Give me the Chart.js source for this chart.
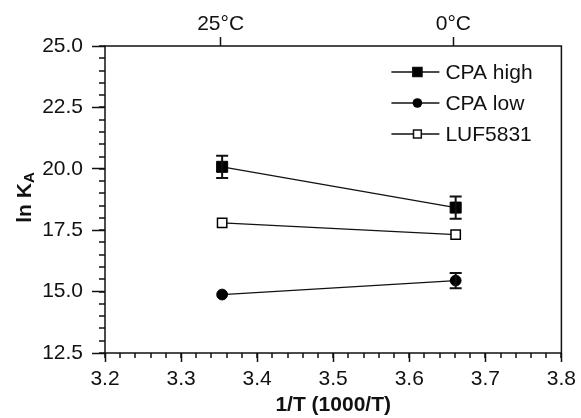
<!DOCTYPE html>
<html>
<head>
<meta charset="utf-8">
<script src="https://cdn.jsdelivr.net/npm/chart.js@4.4.0/dist/chart.umd.min.js"></script>
<style>
  html, body { margin: 0; padding: 0; background: #fff; }
  #wrap { width: 581px; height: 418px; }
</style>
</head>
<body>
<div id="wrap"><canvas id="chart" width="581" height="418"></canvas></div>
<script>
// values
const invTemp = [3.354, 3.661];          // 1000/T at 25°C and 0°C
const cpaHigh = [20.08, 18.42];
const cpaHighErr = [0.45, 0.45];
const cpaLow = [14.88, 15.45];
const cpaLowErr = [0, 0.31];
const luf5831 = [17.80, 17.32];
const luf5831Err = [0, 0];
const seriesNames = ['CPA high', 'CPA low', 'LUF5831'];

// axis ticks
const xTicks = [3.2, 3.3, 3.4, 3.5, 3.6, 3.7, 3.8];
const yTicks = [12.5, 15.0, 17.5, 20.0, 22.5, 25.0];
const tempTickPos = [3.352, 3.658];
const tempTickLabels = ['25°C', '0°C'];
const xMinorStep = 0.02;
const yMinorStep = 0.5;

const INK = '#111';
const FONT = "'Liberation Sans', Arial, sans-serif";

function points(ys) {
    return invTemp.map((x, i) => ({ x: x, y: ys[i] }));
}

// Error bars, minor ticks, frame, y title and legend
const extras = {
    id: 'extras',
    afterDatasetsDraw(chart) {
        const ctx = chart.ctx;
        const yScale = chart.scales.y;
        ctx.save();
        ctx.strokeStyle = INK;
        ctx.lineWidth = 2;
        chart.data.datasets.forEach((ds, di) => {
            const meta = chart.getDatasetMeta(di);
            meta.data.forEach((pt, i) => {
                const err = ds.errors[i];
                if (!err) return;
                const v = ds.data[i].y;
                const yt = yScale.getPixelForValue(v + err);
                const yb = yScale.getPixelForValue(v - err);
                ctx.beginPath();
                ctx.moveTo(pt.x, yt); ctx.lineTo(pt.x, yb);
                ctx.moveTo(pt.x - 6, yt); ctx.lineTo(pt.x + 6, yt);
                ctx.moveTo(pt.x - 6, yb); ctx.lineTo(pt.x + 6, yb);
                ctx.stroke();
            });
        });
        ctx.restore();
    },
    afterDraw(chart) {
        const ctx = chart.ctx;
        const a = chart.chartArea;
        const xs = chart.scales.x, ys = chart.scales.y;
        ctx.save();
        ctx.strokeStyle = INK;
        ctx.lineWidth = 1.5;

        // minor ticks
        ctx.beginPath();
        for (let v = xs.min; v <= xs.max + 1e-9; v += xMinorStep) {
            const px = Math.round(xs.getPixelForValue(v));
            ctx.moveTo(px, a.bottom); ctx.lineTo(px, a.bottom + 5);
        }
        for (let v = ys.min; v <= ys.max + 1e-9; v += yMinorStep) {
            const py = Math.round(ys.getPixelForValue(v));
            ctx.moveTo(a.left, py); ctx.lineTo(a.left - 6, py);
        }
        ctx.stroke();

        // frame
        ctx.strokeRect(a.left, a.top, a.right - a.left, a.bottom - a.top);

        // y axis title: ln K with subscript A
        ctx.fillStyle = INK;
        ctx.translate(25, (a.top + a.bottom) / 2 - 2);
        ctx.rotate(-Math.PI / 2);
        ctx.textBaseline = 'middle';
        ctx.font = 'bold 21px ' + FONT;
        const main = 'ln K';
        const mw = ctx.measureText(main).width;
        ctx.font = 'bold 15px ' + FONT;
        const sw = ctx.measureText('A').width;
        const start = -(mw + sw) / 2;
        ctx.font = 'bold 21px ' + FONT;
        ctx.textAlign = 'left';
        ctx.fillText(main, start, 0);
        ctx.font = 'bold 15px ' + FONT;
        ctx.fillText('A', start + mw, 5);
        ctx.setTransform(1, 0, 0, 1, 0, 0);

        // legend
        chart.data.datasets.forEach((ds, i) => {
            const ly = a.top + 26 + i * 31;
            const x0 = a.right - 170, x1 = a.right - 122, mx = a.right - 144;
            ctx.strokeStyle = INK;
            ctx.lineWidth = 1.5;
            ctx.beginPath();
            ctx.moveTo(x0, ly); ctx.lineTo(x1, ly);
            ctx.stroke();
            ctx.fillStyle = ds.pointBackgroundColor;
            ctx.beginPath();
            if (ds.pointStyle === 'circle') {
                ctx.arc(mx, ly, 4.8, 0, Math.PI * 2);
                ctx.fill();
            } else {
                const h = ds.legendHalf;
                ctx.rect(mx - h, ly - h, 2 * h, 2 * h);
                ctx.fill();
                ctx.stroke();
            }
            ctx.fillStyle = INK;
            ctx.font = '21px ' + FONT;
            ctx.textAlign = 'left';
            ctx.textBaseline = 'middle';
            ctx.fillText(seriesNames[i], a.right - 116, ly + 1);
        });
        ctx.restore();
    }
};

const tickFont = { family: FONT, size: 21 };

new Chart(document.getElementById('chart'), {
    type: 'line',
    data: {
        datasets: [
            {
                label: seriesNames[0],
                data: points(cpaHigh),
                errors: cpaHighErr,
                borderColor: INK,
                borderWidth: 1.3,
                pointStyle: 'rect',
                pointRadius: 7.8,
                pointBackgroundColor: '#000',
                pointBorderColor: '#000',
                pointBorderWidth: 1,
                legendHalf: 4.6
            },
            {
                label: seriesNames[1],
                data: points(cpaLow),
                errors: cpaLowErr,
                borderColor: INK,
                borderWidth: 1.3,
                pointStyle: 'circle',
                pointRadius: 5.4,
                pointBackgroundColor: '#000',
                pointBorderColor: '#000',
                pointBorderWidth: 1
            },
            {
                label: seriesNames[2],
                data: points(luf5831),
                errors: luf5831Err,
                borderColor: INK,
                borderWidth: 1.3,
                pointStyle: 'rect',
                pointRadius: 6.6,
                pointBackgroundColor: '#fff',
                pointBorderColor: '#000',
                pointBorderWidth: 1.5,
                legendHalf: 3.9
            }
        ]
    },
    options: {
        responsive: false,
        animation: false,
        devicePixelRatio: 1,
        layout: { padding: { top: 0, right: 16, bottom: 0, left: 0 } },
        plugins: {
            legend: { display: false },
            tooltip: { enabled: false }
        },
        scales: {
            x: {
                type: 'linear',
                position: 'bottom',
                min: 3.2,
                max: 3.8,
                afterBuildTicks: s => { s.ticks = xTicks.map(v => ({ value: v })); },
                afterFit: s => { s.height = 65; },
                ticks: {
                    font: tickFont,
                    color: INK,
                    padding: 5,
                    maxRotation: 0,
                    callback: v => v.toFixed(1)
                },
                grid: { drawOnChartArea: false, tickLength: 9, tickWidth: 1.5, tickColor: INK },
                border: { display: false },
                title: {
                    display: true,
                    text: '1/T (1000/T)',
                    color: INK,
                    font: { family: FONT, size: 21, weight: 'bold' },
                    padding: { top: 0, bottom: 0 }
                }
            },
            xTop: {
                type: 'linear',
                position: 'top',
                min: 3.2,
                max: 3.8,
                afterBuildTicks: s => { s.ticks = tempTickPos.map(v => ({ value: v })); },
                afterFit: s => { s.height = 46; },
                ticks: {
                    font: tickFont,
                    color: INK,
                    padding: 0,
                    maxRotation: 0,
                    callback: (v, i) => tempTickLabels[i]
                },
                grid: { drawOnChartArea: false, tickLength: 9, tickWidth: 1.5, tickColor: INK },
                border: { display: false }
            },
            y: {
                type: 'linear',
                position: 'left',
                min: 12.5,
                max: 25,
                afterBuildTicks: s => { s.ticks = yTicks.map(v => ({ value: v })); },
                afterFit: s => { s.width = 105; },
                ticks: {
                    font: tickFont,
                    color: INK,
                    padding: 9,
                    callback: v => v.toFixed(1)
                },
                grid: { drawOnChartArea: false, tickLength: 13, tickWidth: 1.5, tickColor: INK },
                border: { display: false }
            }
        }
    },
    plugins: [extras]
});
</script>
</body>
</html>
